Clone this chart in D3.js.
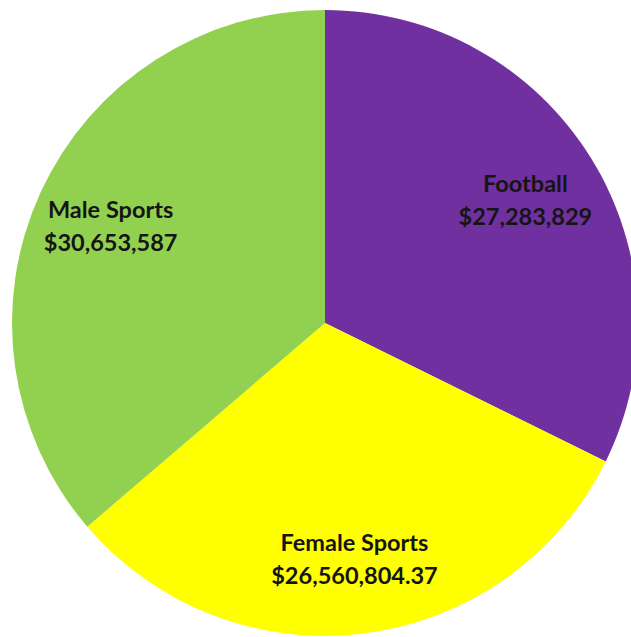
<!DOCTYPE html>
<html>
  <head>
    <meta charset="utf-8">
    <title>Athletics spending</title>
    <script type="text/javascript" src="https://d3js.org/d3.v7.min.js"></script>
    <style>
      body { margin: 0; background: #fff; }
    </style>
  </head>
  <body>
    <div id="chart"></div>
    <script type="text/javascript">
      // slice data, clockwise from 12 o'clock
      var categories = ["Football", "Female Sports", "Male Sports"];
      var values = [27283829, 26560804.37, 30653587];
      var valueLabels = ["$27,283,829", "$26,560,804.37", "$30,653,587"];
      var colors = ["#7030A0", "#FFFF00", "#92D050"];

      var width = 631, height = 637;
      var cx = 325, cy = 323, radius = 313;

      var svg = d3.select("#chart")
        .append("svg")
        .attr("width", width)
        .attr("height", height);

      var g = svg.append("g")
        .attr("transform", "translate(" + cx + "," + cy + ")");

      var pie = d3.pie().sort(null).value(function(d) { return d; });
      var arcs = pie(values);

      var arc = d3.arc().innerRadius(0).outerRadius(radius);
      // labels sit about 3/4 of the way out
      var labelArc = d3.arc().innerRadius(236).outerRadius(236);

      g.selectAll("path")
        .data(arcs)
        .enter()
        .append("path")
          .attr("d", arc)
          .attr("fill", function(d, i) { return colors[i]; });

      var labels = g.selectAll("text")
        .data(arcs)
        .enter()
        .append("text")
          .attr("transform", function(d) { return "translate(" + labelArc.centroid(d) + ")"; })
          .attr("text-anchor", "middle")
          .style("font-family", "Lato, 'Open Sans', sans-serif")
          .style("font-weight", "bold")
          .style("font-size", "23.5px")
          .style("fill", "#151515");

      labels.append("tspan")
        .attr("x", 0)
        .attr("y", -6)
        .text(function(d, i) { return categories[i]; });

      labels.append("tspan")
        .attr("x", 0)
        .attr("y", 27)
        .text(function(d, i) { return valueLabels[i]; });
    </script>
  </body>
</html>
